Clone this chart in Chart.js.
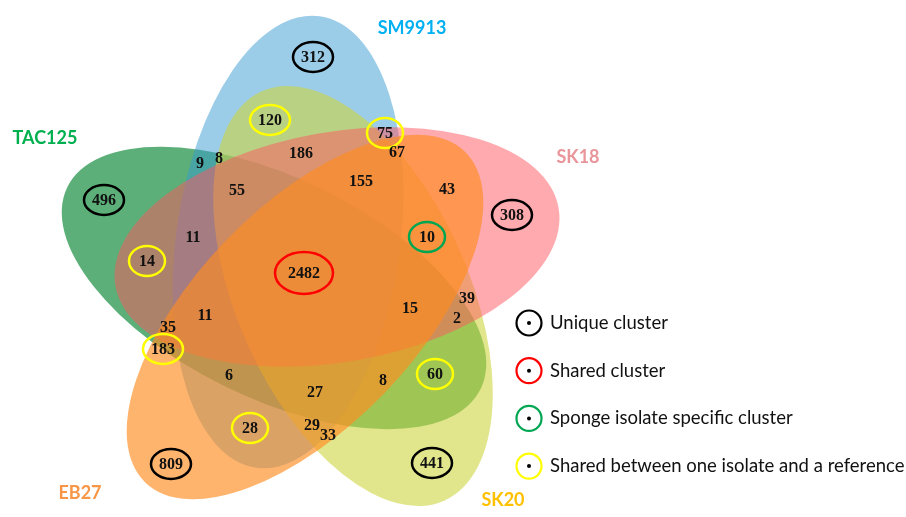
<!DOCTYPE html>
<html>
<head>
<meta charset="utf-8">
<script src="https://cdn.jsdelivr.net/npm/chart.js@4.4.1/dist/chart.umd.min.js"></script>
<style>
  html, body { margin: 0; padding: 0; background: #fff; }
</style>
</head>
<body>
<canvas id="venn" width="906" height="517"></canvas>
<script>
// sets, in drawing order (back to front)
const setNames = ['TAC125', 'SM9913', 'SK20', 'SK18', 'EB27'];
const setFill = ['rgba(51,155,86,0.8)', 'rgba(55,153,209,0.5)', 'rgba(205,213,63,0.6)', 'rgba(255,85,95,0.5)', 'rgba(255,140,32,0.65)'];
const setTitleColor = ['#00B050', '#00B0F0', '#FFC000', '#E8969A', '#F79646'];

// region counts
const regionCounts = [312, 120, 75, 67, 186, 9, 8, 155, 55, 43, 496, 308, 11, 10, 14, 2482, 11, 15, 39, 2, 35, 183, 6, 60, 8, 27, 29, 33, 28, 809, 441];
const regionKind = ['unique', 'ref', 'ref', '', '', '', '', '', '', '', 'unique', 'unique', '', 'sponge', 'ref', 'shared', '', '', '', '', '', 'ref', '', 'ref', '', '', '', '', 'ref', 'unique', 'unique'];

// layout (chart units = pixels of the 906x517 frame)
const labelX = [313, 270, 385, 397, 301, 200, 219, 361, 237, 447, 104, 512, 193, 427, 147, 304, 205, 410, 467, 457, 168, 163, 229, 435, 383, 315, 312, 328, 250, 171, 432];
const labelY = [57, 120, 133, 152, 153, 163, 158, 181, 190, 189, 200, 215, 237, 237, 261, 273, 315, 308, 298, 318, 327, 349, 375, 374, 380, 392, 425, 435, 428, 464, 463];
const ellCx = [274, 288, 353, 337, 305];
const ellCy = [288, 242, 296, 247, 317];
const ellA = [230, 228, 224, 225, 230];
const ellB = [110, 112, 116, 115, 110];
const ellRot = [26, -82, 66, -10, -46];
const titleX = [45, 412, 503, 578, 80];
const titleY = [138, 28, 500, 157, 493];

const legendLabels = ['Unique cluster', 'Shared cluster', 'Sponge isolate specific cluster', 'Shared between one isolate and a reference'];
const legendKinds = ['unique', 'shared', 'sponge', 'ref'];
const ringColor = { unique: '#000000', shared: '#FF0000', sponge: '#00A651', ref: '#FFFF00' };

const ellipsePlugin = {
  id: 'ellipses',
  beforeDatasetsDraw(chart) {
    const { ctx, scales: { x, y } } = chart;
    ctx.save();
    setNames.forEach((name, i) => {
      const cx = x.getPixelForValue(ellCx[i]);
      const cy = y.getPixelForValue(ellCy[i]);
      const rx = Math.abs(x.getPixelForValue(ellCx[i] + ellA[i]) - cx);
      const ry = Math.abs(y.getPixelForValue(ellCy[i] + ellB[i]) - cy);
      ctx.beginPath();
      ctx.ellipse(cx, cy, rx, ry, ellRot[i] * Math.PI / 180, 0, Math.PI * 2);
      ctx.fillStyle = setFill[i];
      ctx.fill();
    });
    // set titles
    ctx.font = 'bold 18px Lato, "Open Sans", sans-serif';
    ctx.textAlign = 'center';
    ctx.textBaseline = 'middle';
    setNames.forEach((name, i) => {
      ctx.fillStyle = setTitleColor[i];
      ctx.fillText(name, x.getPixelForValue(titleX[i]), y.getPixelForValue(titleY[i]));
    });
    ctx.restore();
  }
};

const labelPlugin = {
  id: 'regionLabels',
  afterDatasetsDraw(chart) {
    const { ctx } = chart;
    const meta = chart.getDatasetMeta(0);
    ctx.save();
    ctx.font = 'bold 16px "Liberation Serif", "Times New Roman", serif';
    ctx.textAlign = 'center';
    ctx.textBaseline = 'middle';
    meta.data.forEach((pt, i) => {
      const txt = String(regionCounts[i]);
      const kind = regionKind[i];
      if (kind) {
        const w = ctx.measureText(txt).width;
        const big = kind === 'shared';
        ctx.beginPath();
        ctx.ellipse(pt.x, pt.y, big ? 29 : Math.max(18, w / 2 + 8), big ? 21 : 15, 0, 0, Math.PI * 2);
        ctx.lineWidth = 2.5;
        ctx.strokeStyle = ringColor[kind];
        ctx.stroke();
      }
      ctx.fillStyle = '#111';
      ctx.fillText(txt, pt.x, pt.y + 1);
    });

    // legend
    ctx.font = '18.5px Lato, "Open Sans", sans-serif';
    ctx.textAlign = 'left';
    legendLabels.forEach((lab, i) => {
      const ly = 323 + i * 47.7;
      ctx.beginPath();
      ctx.arc(529, ly, 12.5, 0, Math.PI * 2);
      ctx.lineWidth = 2.2;
      ctx.strokeStyle = ringColor[legendKinds[i]];
      ctx.stroke();
      ctx.beginPath();
      ctx.arc(529, ly, 2, 0, Math.PI * 2);
      ctx.fillStyle = '#000';
      ctx.fill();
      ctx.fillStyle = '#111';
      ctx.fillText(lab, 550, ly);
    });
    ctx.restore();
  }
};

new Chart(document.getElementById('venn'), {
  type: 'scatter',
  data: {
    datasets: [{
      label: 'regions',
      data: regionCounts.map((v, i) => ({ x: labelX[i], y: labelY[i] })),
      pointRadius: 0,
      pointHoverRadius: 0
    }]
  },
  options: {
    responsive: false,
    animation: false,
    layout: { padding: 0 },
    plugins: { legend: { display: false }, tooltip: { enabled: false } },
    scales: {
      x: { type: 'linear', min: 0, max: 906, display: false },
      y: { type: 'linear', min: 0, max: 517, reverse: true, display: false }
    }
  },
  plugins: [ellipsePlugin, labelPlugin]
});
</script>
</body>
</html>
